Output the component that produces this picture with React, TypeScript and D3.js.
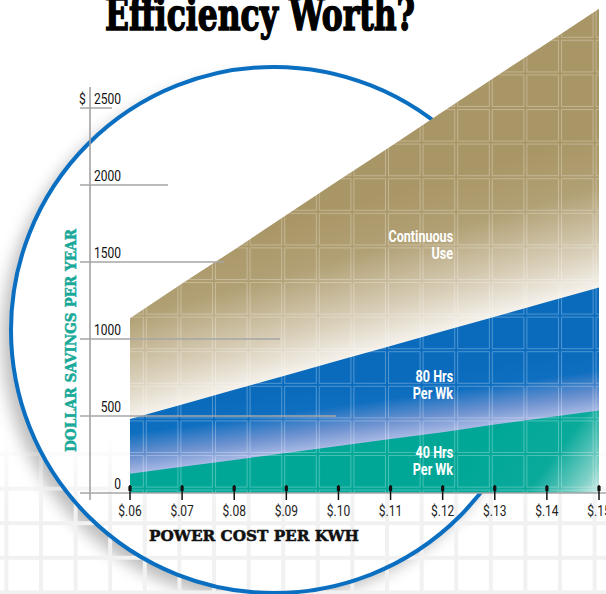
import React from "react";
import * as d3 from "d3";

// values, one per price step
const prices = [0.06, 0.07, 0.08, 0.09, 0.1, 0.11, 0.12, 0.13, 0.14, 0.15];
const priceLabels = ["$.06", "$.07", "$.08", "$.09", "$.10", "$.11", "$.12", "$.13", "$.14", "$.15"];
const continuousUse = [1135, 1360, 1580, 1805, 2030, 2250, 2475, 2700, 2920, 3145];
const hrs80PerWk = [480, 575, 670, 765, 860, 955, 1050, 1145, 1240, 1335];
const hrs40PerWk = [125, 170, 215, 260, 305, 350, 395, 445, 490, 535];
const yTicks = [0, 500, 1000, 1500, 2000, 2500];
const yTickLabels = ["0", "500", "1000", "1500", "2000", "2500"];
const seriesLabels = [
  ["Continuous", "Use"],
  ["80 Hrs", "Per Wk"],
  ["40 Hrs", "Per Wk"],
];

const width = 606;
const height = 594;
const tile = 34.6;

const narrow = "Roboto, 'DejaVu Sans Condensed', sans-serif";
const slab = "'DejaVu Serif', 'Liberation Serif', serif";

const x = d3.scaleLinear().domain([0.06, 0.15]).range([130, 599]);
const y = d3.scaleLinear().domain([0, 2500]).range([493, 108]);

const area = d3
  .area<number>()
  .x((d, i) => x(prices[i]))
  .y0(y(0))
  .y1((d) => y(d));

// gradient running across a series line, ending on it
const acrossLine = (values: number[], len: number) => {
  const m = (y(values[values.length - 1]) - y(values[0])) / (x(0.15) - x(0.06));
  const k = Math.sqrt(1 + m * m);
  const nx = -m / k;
  const ny = 1 / k;
  const mid = Math.floor(values.length / 2);
  const px = x(prices[mid]);
  const py = y(values[mid]);
  return { x1: px - nx * len, y1: py - ny * len, x2: px, y2: py };
};

const circle = { cx: 274, cy: 330, r: 263 };

// condensed text: squeeze a normal face horizontally
const Narrow = ({ x, y, anchor, size, sx, weight, fill, children }: any) => (
  <g transform={`translate(${x},${y}) scale(${sx},1)`}>
    <text textAnchor={anchor} fontFamily={narrow} fontSize={size} fontWeight={weight} fill={fill}>
      {children}
    </text>
  </g>
);

export default function App() {
  const tanG = acrossLine(hrs80PerWk, 150);
  const blueG = acrossLine(hrs40PerWk, 62);
  const labelY = [242, 382, 458];

  return (
    <svg
      width={width}
      height={height}
      style={{ position: "absolute", left: 0, top: 0, background: "#fff" }}
    >
      <defs>
        <linearGradient id="tanGrad" gradientUnits="userSpaceOnUse" {...tanG}>
          <stop offset="0" stopColor="#a99666" />
          <stop offset="0.35" stopColor="#b1a074" />
          <stop offset="0.75" stopColor="#d9cfb9" />
          <stop offset="1" stopColor="#f5f2ec" />
        </linearGradient>
        <linearGradient id="blueGrad" gradientUnits="userSpaceOnUse" {...blueG}>
          <stop offset="0" stopColor="#0a6bbd" />
          <stop offset="0.35" stopColor="#0e6ec0" />
          <stop offset="0.72" stopColor="#6b91cf" />
          <stop offset="1" stopColor="#a9b9e4" />
        </linearGradient>
        <linearGradient id="tealGrad" gradientUnits="userSpaceOnUse" x1={500} y1={420} x2={605} y2={498}>
          <stop offset="0" stopColor="#00a797" />
          <stop offset="0.5" stopColor="#0aaa9b" />
          <stop offset="0.8" stopColor="#7fd0c7" />
          <stop offset="1" stopColor="#eef6f5" />
        </linearGradient>
        <pattern id="tiles" patternUnits="userSpaceOnUse" x={387} y={108} width={tile} height={tile}>
          <rect x={1.5} y={1.5} width={tile - 3} height={tile - 3} fill="none" stroke="#fff" strokeOpacity={0.28} strokeWidth={1} />
        </pattern>
        <pattern id="bgTiles" patternUnits="userSpaceOnUse" x={387} y={108} width={tile} height={tile}>
          <rect x={0} y={0} width={tile} height={tile} fill="none" stroke="#f1f1f1" strokeWidth={4} />
        </pattern>
        <linearGradient id="fadeUp" x1="0" y1="0" x2="0" y2="1">
          <stop offset="0" stopColor="#000" />
          <stop offset="0.73" stopColor="#000" />
          <stop offset="0.86" stopColor="#fff" />
          <stop offset="1" stopColor="#fff" />
        </linearGradient>
        <mask id="bgMask" maskUnits="userSpaceOnUse" x={0} y={0} width={width} height={height}>
          <rect width={width} height={height} fill="url(#fadeUp)" />
        </mask>
        <filter id="soft" x="-20%" y="-20%" width="140%" height="140%">
          <feGaussianBlur stdDeviation={8} />
        </filter>
      </defs>

      {/* lens shadow and face */}
      <circle cx={circle.cx - 9} cy={circle.cy + 9} r={circle.r} fill="#000" opacity={0.26} filter="url(#soft)" />
      <circle cx={circle.cx} cy={circle.cy} r={circle.r} fill="#fff" />
      <rect width={width} height={height} fill="url(#bgTiles)" mask="url(#bgMask)" />
      <circle cx={circle.cx} cy={circle.cy} r={circle.r} fill="none" stroke="#0a6fc1" strokeWidth={4} />

      {/* areas */}
      <path d={area(continuousUse) || ""} fill="url(#tanGrad)" />
      <path d={area(hrs80PerWk) || ""} fill="url(#blueGrad)" />
      <path d={area(hrs40PerWk) || ""} fill="url(#tealGrad)" />
      <path d={area(continuousUse) || ""} fill="url(#tiles)" />

      {/* y axis */}
      <line x1={90} x2={90} y1={87} y2={500} stroke="#9c9c9c" strokeWidth={1.5} />
      {yTicks.map((t, i) => (
        <g key={t}>
          <line
            x1={80}
            x2={t === 0 ? 606 : 112 + 56 * (yTicks.length - 1 - i)}
            y1={y(t)}
            y2={y(t)}
            stroke="#a6a6a6"
            strokeWidth={1.5}
          />
          <Narrow x={121} y={y(t) - 4} anchor="end" size={14} sx={0.86} fill="#111">
            {yTickLabels[i]}
          </Narrow>
        </g>
      ))}
      <Narrow x={79} y={y(2500) - 4} anchor="start" size={14} sx={0.86} fill="#111">
        $
      </Narrow>

      {/* x axis ticks */}
      {prices.map((p, i) => (
        <g key={p}>
          <line x1={x(p)} x2={x(p)} y1={485} y2={500} stroke="#111" strokeWidth={1.5} />
          <rect x={x(p) - 1.6} y={486} width={3.2} height={5} fill="#111" />
          <Narrow x={x(p)} y={516} anchor="middle" size={15} sx={0.8} fill="#222">
            {priceLabels[i]}
          </Narrow>
        </g>
      ))}

      {/* series labels */}
      {seriesLabels.map((lines, i) =>
        lines.map((s, j) => (
          <Narrow
            key={`${i}-${j}`}
            x={x(0.122)}
            y={labelY[i] + j * 16.5}
            anchor="end"
            size={17}
            sx={0.74}
            weight="bold"
            fill="#fff"
          >
            {s}
          </Narrow>
        ))
      )}

      {/* axis titles */}
      <text
        x={149}
        y={541}
        fontFamily={slab}
        fontWeight="bold"
        fontSize={15}
        textLength={210}
        lengthAdjust="spacingAndGlyphs"
        fill="#111"
        stroke="#111"
        strokeWidth={0.5}
      >
        POWER COST PER KWH
      </text>
      <text
        transform="translate(76,452) rotate(-90)"
        fontFamily={slab}
        fontWeight="bold"
        fontSize={15}
        textLength={223}
        lengthAdjust="spacingAndGlyphs"
        fill="#1aa999"
        stroke="#1aa999"
        strokeWidth={0.5}
      >
        DOLLAR SAVINGS PER YEAR
      </text>

      <text
        x={105}
        y={30}
        fontFamily={slab}
        fontWeight="bold"
        fontSize={44}
        textLength={310}
        lengthAdjust="spacingAndGlyphs"
        fill="#000"
        stroke="#000"
        strokeWidth={1.6}
      >
        Efficiency Worth?
      </text>
    </svg>
  );
}
